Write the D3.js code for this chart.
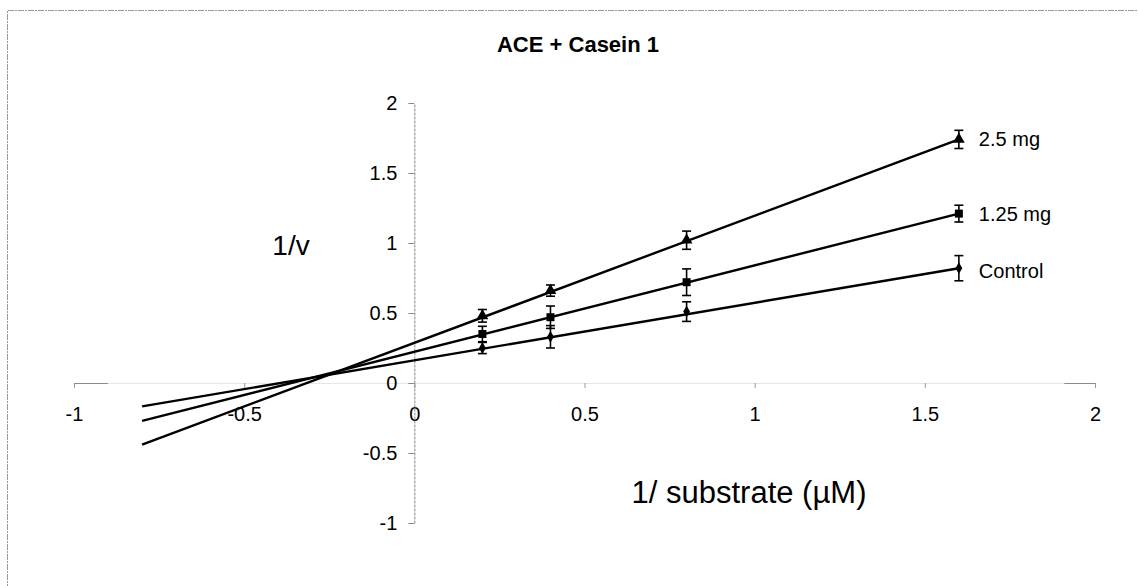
<!DOCTYPE html>
<html>
<head>
<meta charset="utf-8">
<script src="https://cdn.jsdelivr.net/npm/d3@7"></script>
<style>
  html, body { margin: 0; padding: 0; background: #fff; }
  svg { display: block; font-family: Arial, "Liberation Sans", sans-serif; }
</style>
</head>
<body>
<svg id="chart" width="1138" height="586"></svg>
<script>
// ---- data ----
const xValues = [0.2, 0.4, 0.8, 1.6];
const seriesNames = ["Control", "1.25 mg", "2.5 mg"];
const controlY = [0.25, 0.33, 0.51, 0.82];
const controlErr = [0.04, 0.08, 0.07, 0.09];
const mg125Y = [0.35, 0.47, 0.72, 1.21];
const mg125Err = [0.055, 0.08, 0.095, 0.06];
const mg25Y = [0.48, 0.66, 1.02, 1.74];
const mg25Err = [0.045, 0.04, 0.065, 0.065];
const fitX = [-0.8, 1.6];
const controlFit = [-0.167, 0.82];
const mg125Fit = [-0.27, 1.21];
const mg25Fit = [-0.44, 1.74];
const xTicks = [-1, -0.5, 0, 0.5, 1, 1.5, 2];
const yTicks = [-1, -0.5, 0, 0.5, 1, 1.5, 2];
const xTickLabels = ["-1", "-0.5", "0", "0.5", "1", "1.5", "2"];
const yTickLabels = ["-1", "-0.5", "0", "0.5", "1", "1.5", "2"];
const markerTypes = ["diamond", "square", "triangle"];

const series = [
  { name: seriesNames[0], y: controlY, err: controlErr, fit: controlFit, marker: markerTypes[0] },
  { name: seriesNames[1], y: mg125Y, err: mg125Err, fit: mg125Fit, marker: markerTypes[1] },
  { name: seriesNames[2], y: mg25Y, err: mg25Err, fit: mg25Fit, marker: markerTypes[2] }
];

const svg = d3.select("#chart");
const FONT = "Arial, 'Liberation Sans', sans-serif";

// outer (partially visible) chart frame
svg.append("path")
  .attr("d", "M7.5,600 L7.5,10.5 L1140,10.5")
  .attr("fill", "none").attr("stroke", "#9a9a9a").attr("stroke-width", 1)
  .attr("stroke-dasharray", "6,1,2,1");

const x = d3.scaleLinear().domain([-1, 2]).range([74, 1095]);
const y = d3.scaleLinear().domain([-1, 2]).range([523, 103]);

// x axis
const xAxis = svg.append("g").attr("transform", `translate(0,${y(0)})`)
  .call(d3.axisBottom(x).tickValues(xTicks).tickSize(5).tickSizeOuter(0)
    .tickFormat((d, i) => xTickLabels[i]));
xAxis.select(".domain").attr("stroke", "#e6e6e6").attr("stroke-width", 1);
xAxis.selectAll(".tick line").attr("stroke", "#9a9a9a");
xAxis.selectAll(".tick text")
  .attr("y", 31).attr("dy", "0.35em")
  .attr("font-size", 20).attr("font-family", FONT).attr("fill", "#000");
// visible end pieces of the x axis line
svg.append("g").selectAll("line").data([[-1, -0.9], [1.91, 2]]).join("line")
  .attr("x1", d => x(d[0])).attr("x2", d => x(d[1]))
  .attr("y1", y(0) + 0.5).attr("y2", y(0) + 0.5)
  .attr("stroke", "#8a8a8a").attr("stroke-width", 1);

// y axis
const yAxis = svg.append("g").attr("transform", `translate(${x(0)},0)`)
  .call(d3.axisLeft(y).tickValues(yTicks).tickSize(6).tickSizeOuter(0)
    .tickFormat((d, i) => yTickLabels[i]));
yAxis.select(".domain").attr("stroke", "#8a8a8a").attr("stroke-width", 1).attr("stroke-dasharray", "3,1");
yAxis.selectAll(".tick line").attr("stroke", "#8a8a8a");
yAxis.selectAll(".tick text")
  .attr("x", -17)
  .attr("font-size", 20).attr("font-family", FONT).attr("fill", "#000");

// trend lines
const line = d3.line().x(d => x(d[0])).y(d => y(d[1]));
svg.append("g").selectAll("path").data(series).join("path")
  .attr("d", s => line(fitX.map((v, i) => [v, s.fit[i]])))
  .attr("fill", "none").attr("stroke", "#000").attr("stroke-width", 2.4);

// error bars
const eb = svg.append("g").attr("stroke", "#000").attr("stroke-width", 1.6);
series.forEach(s => {
  const g = eb.append("g");
  g.selectAll("line.v").data(xValues).join("line").attr("class", "v")
    .attr("x1", d => x(d)).attr("x2", d => x(d))
    .attr("y1", (d, i) => y(s.y[i] + s.err[i])).attr("y2", (d, i) => y(s.y[i] - s.err[i]));
  g.selectAll("line.t").data(xValues).join("line").attr("class", "t")
    .attr("x1", d => x(d) - 4.5).attr("x2", d => x(d) + 4.5)
    .attr("y1", (d, i) => y(s.y[i] + s.err[i])).attr("y2", (d, i) => y(s.y[i] + s.err[i]));
  g.selectAll("line.b").data(xValues).join("line").attr("class", "b")
    .attr("x1", d => x(d) - 4.5).attr("x2", d => x(d) + 4.5)
    .attr("y1", (d, i) => y(s.y[i] - s.err[i])).attr("y2", (d, i) => y(s.y[i] - s.err[i]));
});

// markers
const symbolFor = { diamond: d3.symbolDiamond, square: d3.symbolSquare, triangle: d3.symbolTriangle };
const sizeFor = { diamond: 40, square: 64, triangle: 60 };
series.forEach(s => {
  svg.append("g").selectAll("path").data(xValues).join("path")
    .attr("transform", (d, i) => `translate(${x(d)},${y(s.y[i])})`)
    .attr("d", d3.symbol().type(symbolFor[s.marker]).size(sizeFor[s.marker]))
    .attr("fill", "#000");
});

// series labels at last point
svg.append("g").selectAll("text").data(series).join("text")
  .attr("x", s => x(xValues[xValues.length - 1]) + 20)
  .attr("y", s => y(s.y[s.y.length - 1]) + (s.marker === "diamond" ? 3 : 0))
  .attr("dy", "0.35em")
  .attr("font-size", 20).attr("font-family", FONT).attr("fill", "#000")
  .text(s => s.name);

// titles
svg.append("text").attr("x", 578).attr("y", 44).attr("dy", "0.35em")
  .attr("text-anchor", "middle").attr("font-size", 22).attr("font-weight", "bold")
  .attr("font-family", FONT)
  .text("ACE + Casein 1");
svg.append("text").attr("x", 291).attr("y", 245).attr("dy", "0.35em")
  .attr("text-anchor", "middle").attr("font-size", 28).attr("font-family", FONT)
  .text("1/v");
svg.append("text").attr("x", 749).attr("y", 492).attr("dy", "0.35em")
  .attr("text-anchor", "middle").attr("font-size", 31).attr("font-family", FONT)
  .text("1/ substrate (\u00B5M)");
</script>
</body>
</html>
